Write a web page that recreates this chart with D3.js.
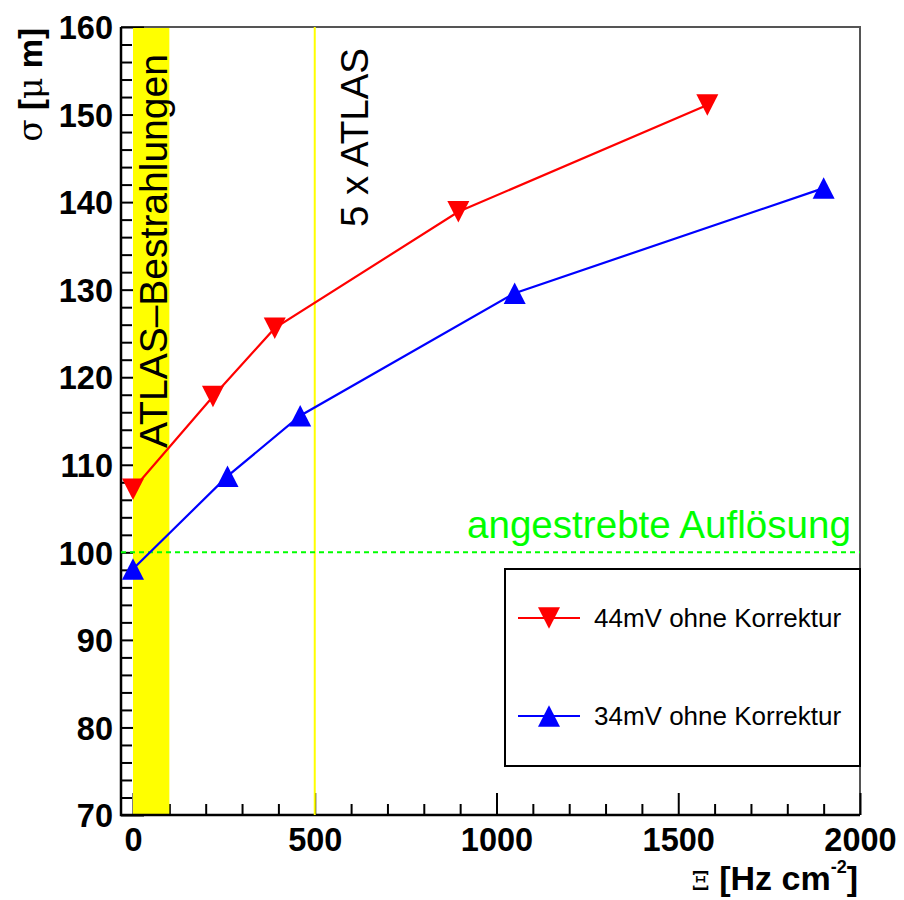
<!DOCTYPE html>
<html>
<head>
<meta charset="utf-8">
<script src="https://cdn.jsdelivr.net/npm/d3@7"></script>
<style>
  html, body { margin: 0; padding: 0; background: #fff; }
  svg { display: block; }
</style>
</head>
<body>
<svg id="chart" width="904" height="900"></svg>
<script>
// ---------------- data ----------------
const seriesNames = ["44mV ohne Korrektur", "34mV ohne Korrektur"];
const rateRed  = [0, 220, 390, 895, 1580];
const sigmaRed = [107.2, 117.8, 125.6, 138.9, 151.1];
const rateBlue  = [0, 260, 460, 1050, 1900];
const sigmaBlue = [98.1, 108.7, 115.6, 129.6, 141.6];
const xMajorTicks = [0, 500, 1000, 1500, 2000];
const yMajorTicks = [70, 80, 90, 100, 110, 120, 130, 140, 150, 160];
const atlasBand = [0, 100];        // ATLAS-Bestrahlungen band
const atlasLine = 500;             // 5 x ATLAS
const targetSigma = 100;           // angestrebte Auflösung

// ---------------- layout ----------------
const svg = d3.select("#chart");
const L = 121, R = 860, T = 27, B = 815;
const x = d3.scaleLinear().domain([-33, 2000]).range([L, R]);
const y = d3.scaleLinear().domain([70, 160]).range([B, T]);
const bold = "'Liberation Sans', Arial, Helvetica, sans-serif";
const regular = bold;

// frame (top/right)
svg.append("path")
  .attr("d", `M${L},${T}H${R}V${B}`)
  .attr("fill", "none").attr("stroke", "#555").attr("stroke-width", 2);

// minor ticks
const xMinor = d3.range(0, 2001, 100).filter(v => v % 500 !== 0);
const yMinor = d3.range(70, 161, 2).filter(v => v % 10 !== 0);

const gx = svg.append("g").attr("transform", `translate(0,${B})`);
gx.call(d3.axisBottom(x).tickValues(xMinor).tickSize(-11).tickFormat(""));
gx.select(".domain").remove();
const gx2 = svg.append("g").attr("transform", `translate(0,${B})`);
gx2.call(d3.axisBottom(x).tickValues(xMajorTicks).tickSize(-22).tickPadding(13).tickFormat(d3.format("d")));
gx2.select(".domain").remove();
[gx, gx2].forEach(g => g.selectAll("line").attr("stroke", "#000").attr("stroke-width", 2));
gx2.selectAll("text").attr("font-family", bold).attr("font-weight", "bold")
  .attr("font-size", 32.5).attr("fill", "#000");

const gy = svg.append("g").attr("transform", `translate(${L},0)`);
gy.call(d3.axisLeft(y).tickValues(yMinor).tickSize(-11).tickFormat(""));
gy.select(".domain").remove();
const gy2 = svg.append("g").attr("transform", `translate(${L},0)`);
gy2.call(d3.axisLeft(y).tickValues(yMajorTicks).tickSize(-23).tickPadding(8).tickFormat(d3.format("d")));
gy2.select(".domain").remove();
[gy, gy2].forEach(g => g.selectAll("line").attr("stroke", "#000").attr("stroke-width", 2));
gy2.selectAll("text").attr("font-family", bold).attr("font-weight", "bold")
  .attr("font-size", 32.5).attr("fill", "#000").attr("dy", "0.36em");

// yellow band (covers ticks)
svg.append("rect")
  .attr("x", x(atlasBand[0])).attr("y", y(160) + 1)
  .attr("width", x(atlasBand[1]) - x(atlasBand[0]))
  .attr("height", y(70) - y(160) - 2)
  .attr("fill", "#ffff00");

// axis lines
svg.append("path").attr("d", `M${L},${T}V${B}H${R}`)
  .attr("fill", "none").attr("stroke", "#000").attr("stroke-width", 2.5);

// 5 x ATLAS vertical line
svg.append("line")
  .attr("x1", x(atlasLine)).attr("x2", x(atlasLine))
  .attr("y1", y(160)).attr("y2", y(70))
  .attr("stroke", "#ffff00").attr("stroke-width", 2);

// target line
svg.append("line")
  .attr("x1", L).attr("x2", R)
  .attr("y1", y(targetSigma)).attr("y2", y(targetSigma))
  .attr("stroke", "#00ff00").attr("stroke-width", 2)
  .attr("stroke-dasharray", "5,4");

// annotation texts
svg.append("text")
  .attr("transform", `translate(167,448) rotate(-90)`)
  .attr("font-family", regular).attr("font-size", 39).attr("fill", "#000")
  .text("ATLAS\u2013Bestrahlungen");
svg.append("text")
  .attr("transform", `translate(368,227) rotate(-90)`)
  .attr("font-family", regular).attr("font-size", 38.5).attr("fill", "#000")
  .text("5 x ATLAS");
svg.append("text")
  .attr("x", 467).attr("y", 538)
  .attr("font-family", regular).attr("font-size", 38.6).attr("fill", "#00ff00")
  .text("angestrebte Aufl\u00f6sung");

// series
const tri = (down, w, h) => down
  ? `M${-w/2},${-h/2}L${w/2},${-h/2}L0,${h/2}Z`
  : `M${-w/2},${h/2}L${w/2},${h/2}L0,${-h/2}Z`;

const series = [
  { name: seriesNames[0], xs: rateRed, ys: sigmaRed, color: "#ff0000", down: true },
  { name: seriesNames[1], xs: rateBlue, ys: sigmaBlue, color: "#0000ff", down: false }
];
const line = d3.line().x(d => x(d[0])).y(d => y(d[1]));
series.forEach(s => {
  const pts = s.xs.map((v, i) => [v, s.ys[i]]);
  svg.append("path").attr("d", line(pts))
    .attr("fill", "none").attr("stroke", s.color).attr("stroke-width", 2.2);
  svg.selectAll(null).data(pts).enter().append("path")
    .attr("transform", d => `translate(${x(d[0])},${y(d[1])})`)
    .attr("d", tri(s.down, 22, 21.5))
    .attr("fill", s.color);
});

// legend
const lg = svg.append("g");
lg.append("rect").attr("x", 505).attr("y", 569).attr("width", 355).attr("height", 197)
  .attr("fill", "#fff").attr("stroke", "#000").attr("stroke-width", 2);
const legY = [618, 716];
series.forEach((s, i) => {
  lg.append("line").attr("x1", 518).attr("x2", 580).attr("y1", legY[i]).attr("y2", legY[i])
    .attr("stroke", s.color).attr("stroke-width", 2.2);
  lg.append("path").attr("transform", `translate(549,${legY[i]})`)
    .attr("d", tri(s.down, 22, 21.5)).attr("fill", s.color);
  lg.append("text").attr("x", 594).attr("y", legY[i] + 9)
    .attr("font-family", regular).attr("font-size", 26).attr("fill", "#000")
    .text(s.name);
});

// axis titles
const yt = svg.append("text")
  .attr("transform", `translate(42,28) rotate(-90)`)
  .attr("text-anchor", "end")
  .attr("font-family", bold).attr("font-weight", "bold").attr("font-size", 33).attr("fill", "#000");
yt.append("tspan").attr("font-family", "'DejaVu Serif', serif").attr("font-weight", "normal").text("\u03c3");
yt.append("tspan").text(" [");
yt.append("tspan").attr("font-family", "'DejaVu Serif', serif").attr("font-weight", "normal").text("\u03bc");
yt.append("tspan").text(" m]");

const xt = svg.append("text")
  .attr("x", 858).attr("y", 890).attr("text-anchor", "end")
  .attr("font-family", bold).attr("font-weight", "bold").attr("font-size", 34).attr("fill", "#000");
xt.append("tspan").attr("font-family", "'DejaVu Serif', serif").attr("font-weight", "normal").attr("font-size", 26).text("\u039e");
xt.append("tspan").text(" [Hz cm");
xt.append("tspan").attr("font-size", 18).attr("dy", -17).text("-2");
xt.append("tspan").attr("dy", 17).text("]");
</script>
</body>
</html>
